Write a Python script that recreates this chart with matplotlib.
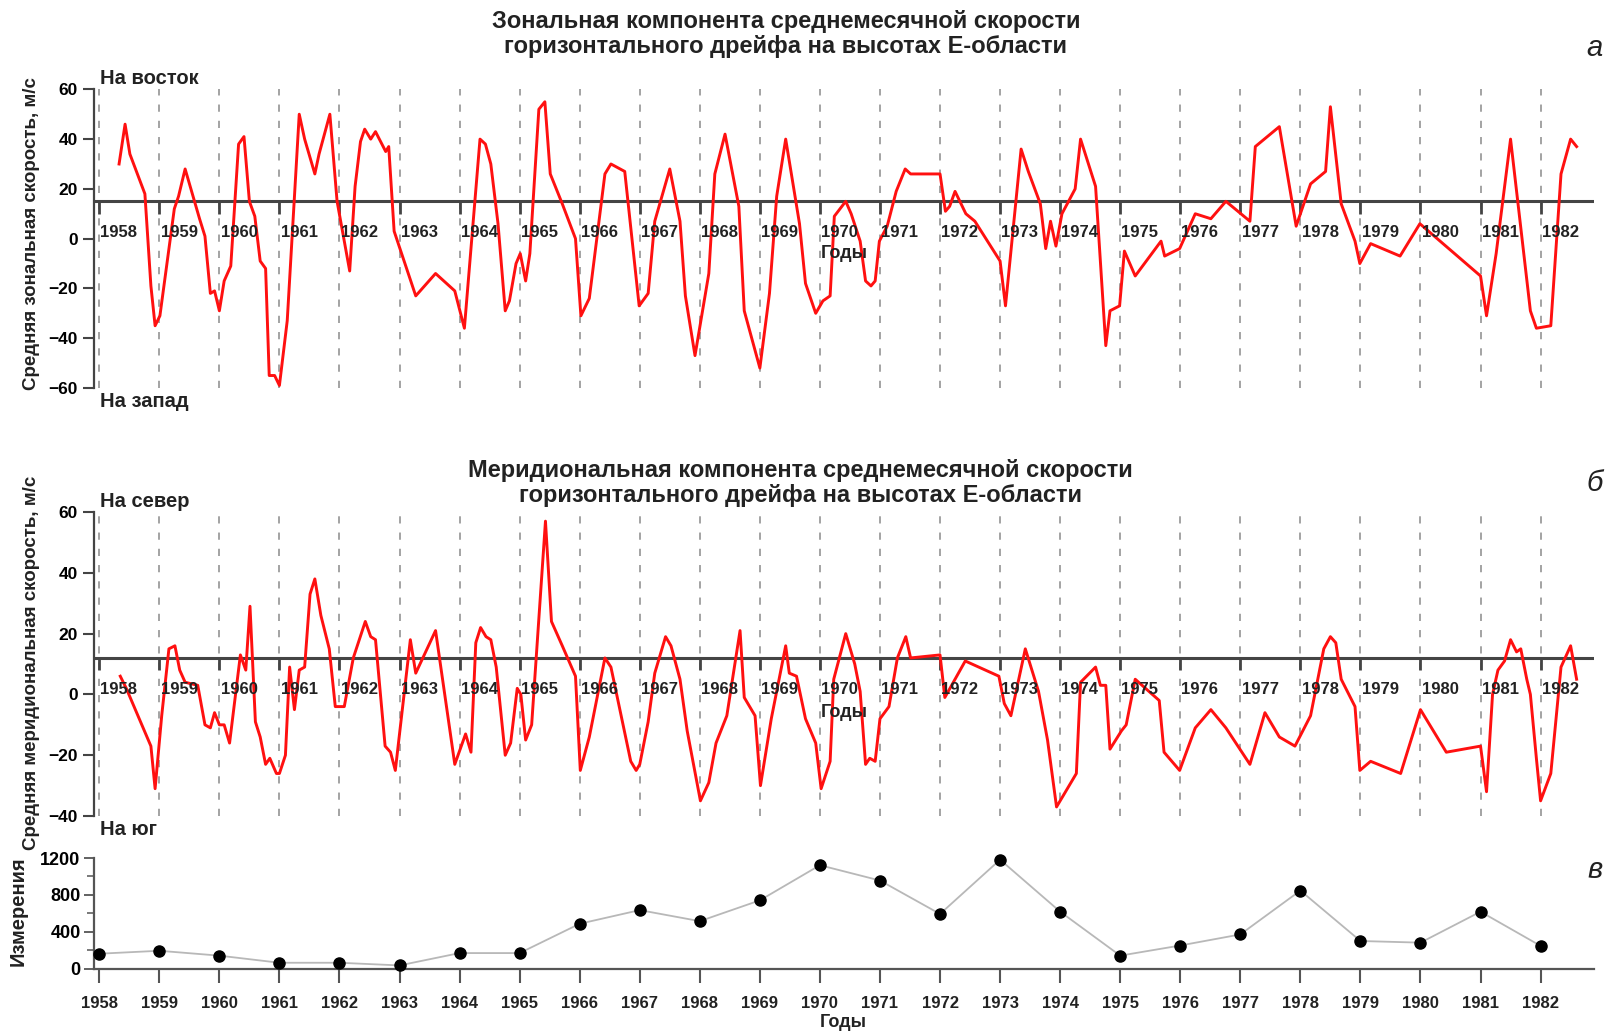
import matplotlib
matplotlib.use('Agg')
import matplotlib.pyplot as plt
from matplotlib import font_manager

plt.rcParams['font.family'] = ['Liberation Sans', 'DejaVu Sans']
names = {f.name for f in font_manager.fontManager.ttflist}
narrow = 'Liberation Sans Narrow' if 'Liberation Sans Narrow' in names else 'Liberation Sans'

# годы
years = list(range(1958, 1983))

# а: зональная компонента (время в долях года, м/с)
zonal_t = [1958.33, 1958.43, 1958.51, 1958.76, 1958.86, 1958.93, 1959.01, 1959.25, 1959.32, 1959.43,
           1959.55, 1959.67, 1959.76, 1959.85, 1959.92, 1960.00, 1960.08, 1960.19, 1960.32, 1960.41,
           1960.50, 1960.59, 1960.68, 1960.77, 1960.83, 1960.92, 1961.00, 1961.13, 1961.33, 1961.42,
           1961.59, 1961.66, 1961.84, 1961.96, 1962.17, 1962.26, 1962.35, 1962.42, 1962.52, 1962.60,
           1962.77, 1962.82, 1962.91, 1963.27, 1963.60, 1963.92, 1964.08, 1964.34, 1964.43, 1964.52,
           1964.64, 1964.76, 1964.83, 1964.94, 1965.01, 1965.10, 1965.17, 1965.32, 1965.42, 1965.51,
           1965.71, 1965.93, 1966.02, 1966.16, 1966.42, 1966.52, 1966.75, 1966.99, 1967.14, 1967.25,
           1967.50, 1967.67, 1967.76, 1967.92, 1968.15, 1968.25, 1968.42, 1968.65, 1968.74, 1969.00,
           1969.16, 1969.28, 1969.43, 1969.66, 1969.76, 1969.93, 1970.05, 1970.17, 1970.24, 1970.43,
           1970.52, 1970.67, 1970.76, 1970.85, 1970.92, 1970.99, 1971.12, 1971.27, 1971.42, 1971.51,
           1972.00, 1972.09, 1972.16, 1972.25, 1972.43, 1972.58, 1973.00, 1973.09, 1973.35, 1973.47,
           1973.67, 1973.76, 1973.84, 1973.93, 1974.03, 1974.25, 1974.34, 1974.59, 1974.76, 1974.83,
           1974.99, 1975.07, 1975.25, 1975.68, 1975.74, 1975.99, 1976.25, 1976.51, 1976.76, 1977.16,
           1977.25, 1977.65, 1977.93, 1978.17, 1978.42, 1978.50, 1978.68, 1978.91, 1978.99, 1979.17,
           1979.66, 1979.99, 1981.00, 1981.10, 1981.26, 1981.50, 1981.83, 1981.93, 1982.17, 1982.34,
           1982.50, 1982.60]
zonal_v = [30, 46, 34, 18, -19, -35, -31, 12, 17, 28,
           18, 8, 1, -22, -21, -29, -17, -11, 38, 41,
           15, 9, -9, -12, -55, -55, -59, -33, 50, 40,
           26, 34, 50, 15, -13, 21, 39, 44, 40, 43,
           35, 37, 3, -23, -14, -21, -36, 40, 38, 30,
           6, -29, -25, -10, -6, -17, -6, 52, 55, 26,
           14, 0, -31, -24, 26, 30, 27, -27, -22, 7,
           28, 7, -23, -47, -14, 26, 42, 13, -29, -52,
           -22, 17, 40, 6, -18, -30, -25, -23, 9, 15,
           10, -1, -17, -19, -17, -1, 5, 19, 28, 26,
           26, 11, 13, 19, 10, 7, -9, -27, 36, 27,
           14, -4, 7, -3, 10, 20, 40, 21, -43, -29,
           -27, -5, -15, -1, -7, -4, 10, 8, 15, 7,
           37, 45, 5, 22, 27, 53, 14, -1, -10, -2,
           -7, 6, -15, -31, -6, 40, -29, -36, -35, 26,
           40, 37]

# б: меридиональная компонента
merid_t = [1958.35, 1958.45, 1958.86, 1958.93, 1959.04, 1959.16, 1959.26, 1959.34, 1959.43, 1959.64,
           1959.76, 1959.85, 1959.92, 1960.00, 1960.08, 1960.17, 1960.35, 1960.44, 1960.51, 1960.60,
           1960.68, 1960.77, 1960.84, 1960.95, 1961.00, 1961.10, 1961.17, 1961.25, 1961.33, 1961.42,
           1961.51, 1961.59, 1961.69, 1961.83, 1961.93, 1962.08, 1962.23, 1962.43, 1962.52, 1962.60,
           1962.76, 1962.85, 1962.93, 1963.18, 1963.27, 1963.60, 1963.92, 1964.10, 1964.19, 1964.27,
           1964.35, 1964.44, 1964.52, 1964.61, 1964.76, 1964.85, 1964.96, 1965.02, 1965.10, 1965.20,
           1965.43, 1965.53, 1965.71, 1965.93, 1966.01, 1966.16, 1966.42, 1966.52, 1966.85, 1966.94,
           1967.00, 1967.14, 1967.25, 1967.43, 1967.52, 1967.67, 1967.79, 1968.01, 1968.15, 1968.27,
           1968.45, 1968.67, 1968.74, 1968.92, 1969.01, 1969.19, 1969.43, 1969.49, 1969.61, 1969.76,
           1969.93, 1970.02, 1970.17, 1970.23, 1970.43, 1970.58, 1970.67, 1970.76, 1970.83, 1970.92,
           1971.00, 1971.15, 1971.29, 1971.43, 1971.51, 1972.00, 1972.08, 1972.42, 1972.98, 1973.07,
           1973.18, 1973.42, 1973.64, 1973.79, 1973.94, 1974.27, 1974.34, 1974.59, 1974.67, 1974.76,
           1974.83, 1975.02, 1975.10, 1975.25, 1975.65, 1975.73, 1975.99, 1976.25, 1976.51, 1976.76,
           1977.16, 1977.41, 1977.65, 1977.91, 1978.17, 1978.39, 1978.50, 1978.59, 1978.68, 1978.91,
           1978.99, 1979.17, 1979.67, 1980.00, 1980.43, 1981.00, 1981.10, 1981.20, 1981.29, 1981.40,
           1981.50, 1981.60, 1981.67, 1981.77, 1981.83, 1981.93, 1982.00, 1982.17, 1982.34, 1982.50,
           1982.60]
merid_v = [6, 2, -17, -31, -7, 15, 16, 8, 4, 3,
           -10, -11, -6, -10, -10, -16, 13, 8, 29, -9,
           -14, -23, -21, -26, -26, -20, 9, -5, 8, 9,
           33, 38, 26, 15, -4, -4, 12, 24, 19, 18,
           -17, -19, -25, 18, 7, 21, -23, -13, -19, 17,
           22, 19, 18, 9, -20, -16, 2, 0, -15, -10,
           57, 24, 16, 6, -25, -14, 12, 9, -22, -25,
           -23, -9, 7, 19, 16, 5, -12, -35, -29, -16,
           -7, 21, -1, -7, -30, -8, 16, 7, 6, -8,
           -16, -31, -22, 5, 20, 10, 1, -23, -21, -22,
           -8, -4, 12, 19, 12, 13, -1, 11, 6, -3,
           -7, 15, 1, -15, -37, -26, 4, 9, 3, 3,
           -18, -12, -10, 5, -2, -19, -25, -11, -5, -11,
           -23, -6, -14, -17, -7, 15, 19, 17, 5, -4,
           -25, -22, -26, -5, -19, -17, -32, 0, 8, 11,
           18, 14, 15, 5, 0, -21, -35, -26, 9, 16,
           5]

# в: число измерений за год
count_vals = [162, 194, 141, 64, 64, 35, 169, 169, 487, 635,
              515, 741, 1122, 956, 593, 1182, 618, 141, 251, 371,
              847, 300, 282, 618, 247]

xlim = (1957.92, 1982.89)
fig = plt.figure(figsize=(16.09, 10.34), dpi=100)
ax1 = fig.add_axes([0.0587, 0.6248, 0.932, 0.2888])
ax2 = fig.add_axes([0.0587, 0.2108, 0.932, 0.2940])
ax3 = fig.add_axes([0.0587, 0.0632, 0.932, 0.1070])


def speed_panel(ax, t, v, ylim, base, tick_len, lab_off, top_txt, bot_txt):
    ax.set_xlim(*xlim)
    ax.set_ylim(*ylim)
    for y in years:
        ax.axvline(y, color='#9c9c9c', lw=1.3, ls=(0, (4, 5)), zorder=1)
    ax.axhline(base, color='#444444', lw=2.2, zorder=2)
    ax.vlines(years, base - tick_len, base, color='#444444', lw=2, zorder=2)
    for y in years:
        ax.text(y + 0.02, base - lab_off, str(y), fontsize=12, fontweight='bold',
                ha='left', va='center', color='#222222', zorder=4)
    ax.plot(t, v, color='#ff1010', lw=2.1, zorder=3)
    for s in ['top', 'right', 'bottom']:
        ax.spines[s].set_visible(False)
    ax.spines['left'].set_color('#444444')
    ax.spines['left'].set_linewidth(1.6)
    ax.set_yticks(range(ylim[0], ylim[1] + 1, 20))
    ax.tick_params(axis='y', direction='out', length=8, width=1.5, color='#444444',
                   labelsize=12.5, pad=4)
    for lab in ax.get_yticklabels():
        lab.set_fontweight('bold')
    ax.set_xticks([])
    ax.text(0.0035, 1.005, top_txt, transform=ax.transAxes, fontsize=14.5,
            fontweight='bold', ha='left', va='bottom', color='#222222')
    ax.text(0.0035, -0.012, bot_txt, transform=ax.transAxes, fontsize=14.5,
            fontweight='bold', ha='left', va='top', color='#222222')
    ax.text(1970.4, base - lab_off - 8.5 if ylim[0] < -50 else base - lab_off - 7.5,
            'Годы', fontsize=13, fontweight='bold', ha='center', va='center', color='#222222')


speed_panel(ax1, zonal_t, zonal_v, (-60, 60), 15, 5, 12.5, 'На восток', 'На запад')
speed_panel(ax2, merid_t, merid_v, (-40, 60), 12, 4, 10.5, 'На север', 'На юг')

# вертикальные подписи осей
fig.text(0.0195, 0.774, 'Средняя зональная скорость, м/с', rotation=90, fontsize=13.5,
         fontweight='bold', ha='center', va='center', color='#222222')
fig.text(0.0195, 0.359, 'Средняя меридиональная скорость, м/с', rotation=90, fontsize=13.5,
         fontweight='bold', ha='center', va='center', color='#222222')

# заголовки
fig.text(0.4885, 0.967, 'Зональная компонента среднемесячной скорости\nгоризонтального дрейфа на высотах Е-области',
         fontsize=17, fontweight='bold', ha='center', va='center', linespacing=1.15, color='#222222')
fig.text(0.4975, 0.533, 'Меридиональная компонента среднемесячной скорости\nгоризонтального дрейфа на высотах Е-области',
         fontsize=17, fontweight='bold', ha='center', va='center', linespacing=1.15, color='#222222')

fig.text(0.996, 0.954, 'а', fontsize=21, style='italic', ha='right', va='center', color='#222222')
fig.text(0.996, 0.533, 'б', fontsize=21, style='italic', ha='right', va='center', color='#222222')
fig.text(0.996, 0.159, 'в', fontsize=21, style='italic', ha='right', va='center', color='#222222')

# в: измерения
ax3.set_xlim(*xlim)
ax3.set_ylim(0, 1200)
ax3.plot(years, count_vals, color='#b8b8b8', lw=1.3, marker='o', ms=8,
         mfc='black', mec='black', clip_on=False, zorder=3)
for s in ['top', 'right']:
    ax3.spines[s].set_visible(False)
for s in ['left', 'bottom']:
    ax3.spines[s].set_color('#555555')
    ax3.spines[s].set_linewidth(1.6)
ax3.set_xticks(years)
ax3.set_xticklabels([str(y) for y in years], fontsize=12, fontweight='bold',
                    family=[narrow, 'DejaVu Sans'], color='#222222')
ax3.set_yticks([0, 400, 800, 1200])
ax3.set_yticks([200, 600, 1000], minor=True)
ax3.tick_params(axis='x', direction='out', length=10, width=1.5, color='#555555', pad=10)
ax3.tick_params(axis='y', which='major', direction='out', length=7, width=1.3,
                color='#555555', labelsize=13, pad=3)
ax3.tick_params(axis='y', which='minor', direction='out', length=5, width=1.1, color='#555555')
for lab in ax3.get_yticklabels():
    lab.set_fontweight('bold')
    lab.set_family([narrow, 'DejaVu Sans'])
fig.text(0.524, 0.011, 'Годы', fontsize=13, fontweight='bold', ha='center', va='center',
         color='#222222')
fig.text(0.0115, 0.119, 'Измерения', rotation=90, fontsize=14.5, fontweight='bold',
         ha='center', va='center', color='#222222')

fig.savefig('out.png', dpi=100)
